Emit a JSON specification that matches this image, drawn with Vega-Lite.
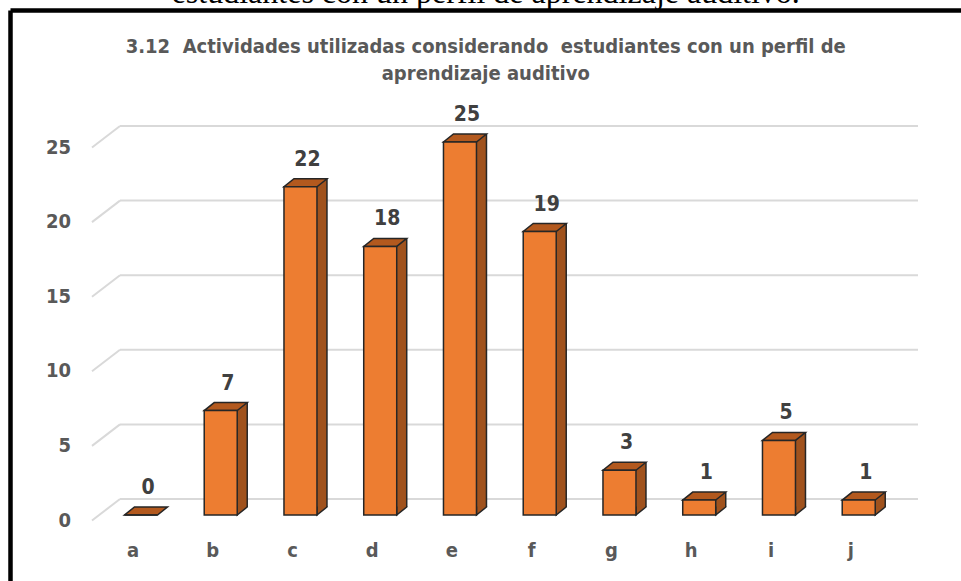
{
  "$schema": "https://vega.github.io/schema/vega-lite/v6.json",
  "width": 950.5,
  "height": 570.5,
  "padding": {"left": 10.5, "top": 10.5, "right": 0, "bottom": 0},
  "autosize": {"type": "none"},
  "background": "white",
  "config": {
    "view": {"stroke": "#000000", "strokeWidth": 4.5, "strokeDash": [950.5, 1521, 570.5, 0], "fill": "white"},
    "font": "DejaVu Sans Condensed, DejaVu Sans, sans-serif"
  },
  "title": {
    "text": "estudiantes con un perfil de aprendizaje auditivo.",
    "font": "Liberation Serif, Times New Roman, serif",
    "fontSize": 32,
    "fontWeight": "normal",
    "color": "#000000",
    "anchor": "middle",
    "frame": "group",
    "offset": -74,
    "subtitle": ["3.12 \u00a0Actividades utilizadas considerando \u00a0estudiantes con un perfil de", "aprendizaje auditivo"],
    "subtitleFont": "DejaVu Sans Condensed, DejaVu Sans, sans-serif",
    "subtitleFontSize": 20,
    "subtitleFontWeight": "bold",
    "subtitleColor": "#595959",
    "subtitleLineHeight": 27,
    "subtitlePadding": 27
  },
  "datasets": {
    "actividades": [
      {"k": "a", "v": 0},
      {"k": "b", "v": 7},
      {"k": "c", "v": 22},
      {"k": "d", "v": 18},
      {"k": "e", "v": 25},
      {"k": "f", "v": 19},
      {"k": "g", "v": 3},
      {"k": "h", "v": 1},
      {"k": "i", "v": 5},
      {"k": "j", "v": 1}
    ],
    "grid": [
      {"g": 0}, {"g": 5}, {"g": 10}, {"g": 15}, {"g": 20}, {"g": 25}
    ]
  },
  "resolve": {"scale": {"x": "independent"}},
  "layer": [
    {
      "data": {"name": "grid"},
      "layer": [
        {
          "mark": {"type": "rule", "xOffset": 28, "yOffset": -16, "stroke": "#D9D9D9", "strokeWidth": 2},
          "encoding": {
            "x": {"datum": 0, "type": "quantitative", "scale": {"domain": [0, 1], "range": [81.5, 907.5]}, "axis": null},
            "x2": {"datum": 1},
            "y": {
              "field": "g", "type": "quantitative",
              "scale": {"domain": [0, 25], "range": [504.5, 131.5], "nice": false, "zero": true},
              "axis": {"values": [0, 5, 10, 15, 20, 25], "domain": false, "ticks": false, "grid": false, "labelFontSize": 20, "labelFontWeight": "bold", "labelColor": "#595959", "labelPadding": 0, "offset": -60, "labelOffset": 5, "title": null}
            }
          }
        },
        {
          "mark": {"type": "rule", "x2Offset": 28, "yOffset": 5.5, "y2Offset": -16, "stroke": "#D9D9D9", "strokeWidth": 2},
          "encoding": {
            "x": {"datum": 0, "type": "quantitative", "scale": {"domain": [0, 1], "range": [81.5, 907.5]}, "axis": null},
            "x2": {"datum": 0},
            "y": {
              "field": "g", "type": "quantitative",
              "axis": {"values": [0, 5, 10, 15, 20, 25], "domain": false, "ticks": false, "grid": false, "labelFontSize": 20, "labelFontWeight": "bold", "labelColor": "#595959", "labelPadding": 0, "offset": -60, "labelOffset": 5, "title": null}
            },
            "y2": {"field": "g"}
          }
        }
      ]
    },
    {
      "data": {"name": "actividades"},
      "encoding": {
        "x": {
          "field": "k", "type": "nominal",
          "scale": {"type": "band", "range": [90.6, 888.1], "paddingInner": 0, "paddingOuter": 0},
          "axis": {"domain": false, "ticks": false, "grid": false, "labelAngle": 0, "labelFontSize": 20, "labelFontWeight": "bold", "labelColor": "#595959", "labelBaseline": "alphabetic", "labelPadding": 0, "offset": -25, "labelOffset": -8, "title": null}
        },
        "y": {
          "field": "v", "type": "quantitative",
          "axis": {"values": [0, 5, 10, 15, 20, 25], "domain": false, "ticks": false, "grid": false, "labelFontSize": 20, "labelFontWeight": "bold", "labelColor": "#595959", "labelPadding": 0, "offset": -60, "labelOffset": 5, "title": null}
        }
      },
      "layer": [
        {
          "transform": [{"filter": "datum.v > 0"}],
          "mark": {"type": "bar", "width": 10, "xOffset": 21.5, "y2Offset": -8, "fill": "#A0521D", "strokeWidth": 0},
          "encoding": {
            "y2": {"datum": 0}
          }
        },
        {
          "transform": [{"filter": "datum.v > 0"}],
          "mark": {"type": "point", "shape": "M16.5,0L26.5,-8L26.5,1L16.5,1Z", "size": 4, "filled": true, "fill": "#A0521D", "opacity": 1, "strokeWidth": 0}
        },
        {
          "transform": [{"filter": "datum.v > 0"}],
          "mark": {"type": "point", "shape": "M16.5,-8.5L16.5,0L26.5,-8L26.5,-8.5", "size": 4, "filled": true, "fill": "#A0521D", "opacity": 1, "stroke": "#262626", "strokeWidth": 1.5},
          "encoding": {
            "y": {
              "datum": 0, "type": "quantitative",
              "axis": {"values": [0, 5, 10, 15, 20, 25], "domain": false, "ticks": false, "grid": false, "labelFontSize": 20, "labelFontWeight": "bold", "labelColor": "#595959", "labelPadding": 0, "offset": -60, "labelOffset": 5, "title": null}
            }
          }
        },
        {
          "transform": [{"filter": "datum.v > 0"}],
          "mark": {"type": "rule", "xOffset": 26.5, "yOffset": -8, "y2Offset": -8, "stroke": "#262626", "strokeWidth": 1.5},
          "encoding": {
            "y2": {"datum": 0}
          }
        },
        {
          "mark": {"type": "point", "shape": "M-16.5,0L16.5,0L26.5,-8L-6.5,-8Z", "size": 4, "filled": true, "fill": "#B3591E", "opacity": 1, "stroke": "#262626", "strokeWidth": 1.5}
        },
        {
          "mark": {"type": "bar", "width": 33, "fill": "#ED7D31", "stroke": "#262626", "strokeWidth": 1.5},
          "encoding": {
            "y": {
              "field": "v", "type": "quantitative",
              "scale": {"domain": [0, 25], "range": [504.5, 131.5], "nice": false, "zero": true},
              "axis": {"values": [0, 5, 10, 15, 20, 25], "domain": false, "ticks": false, "grid": false, "labelFontSize": 20, "labelFontWeight": "bold", "labelColor": "#595959", "labelPadding": 0, "offset": -60, "labelOffset": 5, "title": null}
            },
            "y2": {"datum": 0}
          }
        },
        {
          "mark": {"type": "text", "dx": 7, "dy": -27, "baseline": "middle", "fontSize": 21, "fontWeight": "bold", "color": "#404040"},
          "encoding": {
            "text": {"field": "v", "type": "quantitative"}
          }
        }
      ]
    }
  ]
}
